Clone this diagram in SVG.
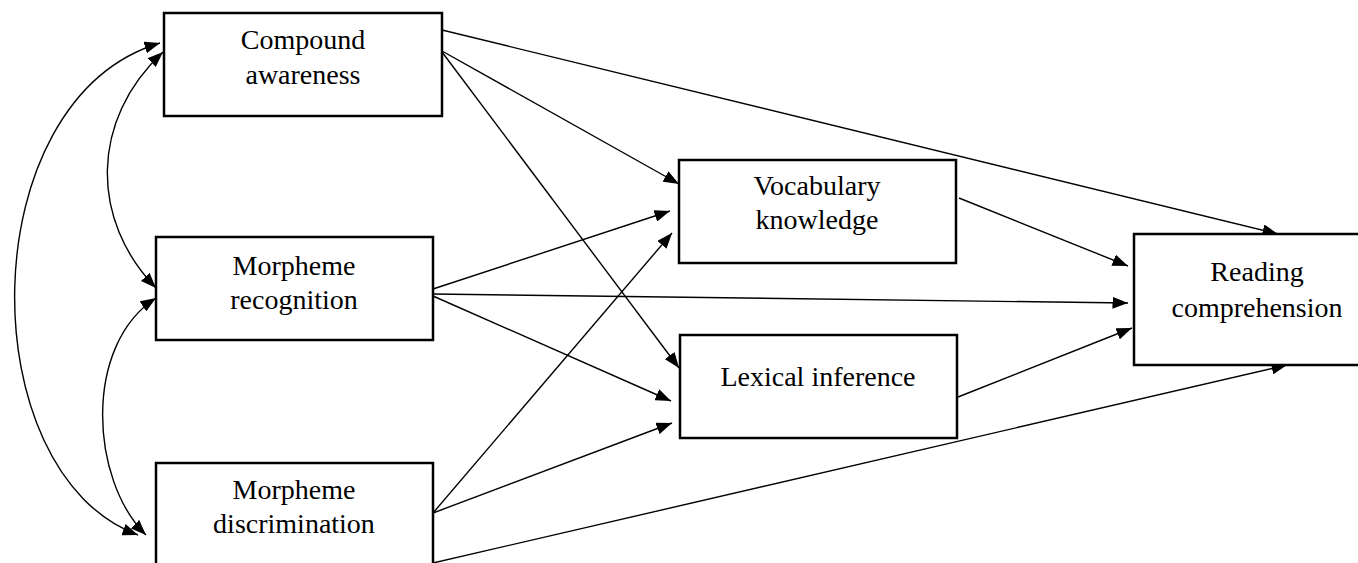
<svg xmlns="http://www.w3.org/2000/svg" width="1358" height="563" viewBox="0 0 1358 563">
<defs>
<marker id="ah" markerUnits="userSpaceOnUse" markerWidth="16" markerHeight="12" refX="15.5" refY="6" orient="auto-start-reverse" viewBox="0 0 16 12">
<path d="M0,0 L15.5,6 L0,12 z" fill="#000"/>
</marker>
<style>
.box{fill:#fff;stroke:#000;stroke-width:2.5}
.lbl{font-family:"Liberation Serif","Times New Roman",serif;font-size:28px;fill:#000;text-anchor:middle}
.c{fill:none;stroke:#000;stroke-width:1.4;marker-end:url(#ah)}
.d{fill:none;stroke:#000;stroke-width:1.4;marker-start:url(#ah);marker-end:url(#ah)}
</style>
</defs>
<rect width="1358" height="563" fill="#fff"/>
<g id="connectors">
<path class="c" d="M442,30 L1278,234"/>
<path class="c" d="M442,51 L679,184"/>
<path class="c" d="M442,52 L679,368"/>
<path class="c" d="M433,289 L670,211"/>
<path class="c" d="M433,294 L1128,303"/>
<path class="c" d="M433,296 L671,401"/>
<path class="c" d="M433,513 L672,233"/>
<path class="c" d="M433,513 L672,423"/>
<path class="c" d="M433,563 L1287,365"/>
<path class="c" d="M959,198 L1128,266"/>
<path class="c" d="M958,397 L1132,328"/>
<path class="d" d="M160,43 C -30,100 -30,473 138,535"/>
<path class="d" d="M163,52 C 90,120 90,220 156,288"/>
<path class="d" d="M156,298 C 83,345 90,480 146,535"/>
</g>
<g id="compound">
<rect class="box" x="164" y="13" width="278" height="103"/>
<text class="lbl" x="303" y="49">Compound</text>
<text class="lbl" x="303" y="84">awareness</text>
</g>
<g id="recognition">
<rect class="box" x="156" y="237" width="277" height="103"/>
<text class="lbl" x="294" y="275">Morpheme</text>
<text class="lbl" x="294" y="309">recognition</text>
</g>
<g id="discrimination">
<rect class="box" x="156" y="463" width="277" height="110"/>
<text class="lbl" x="294" y="499">Morpheme</text>
<text class="lbl" x="294" y="533">discrimination</text>
</g>
<g id="vocabulary">
<rect class="box" x="679" y="160" width="277" height="103"/>
<text class="lbl" x="817" y="195">Vocabulary</text>
<text class="lbl" x="817" y="229">knowledge</text>
</g>
<g id="lexical">
<rect class="box" x="680" y="335" width="277" height="103"/>
<text class="lbl" x="818" y="386">Lexical inference</text>
</g>
<g id="reading">
<rect class="box" x="1134" y="234" width="246" height="131"/>
<text class="lbl" x="1257" y="281">Reading</text>
<text class="lbl" x="1257" y="317">comprehension</text>
</g>
</svg>
